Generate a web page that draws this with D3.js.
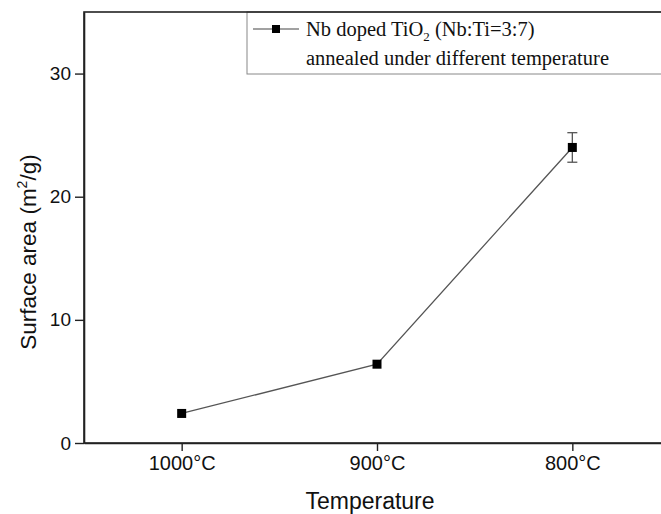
<!DOCTYPE html>
<html><head><meta charset="utf-8">
<script src="https://cdn.jsdelivr.net/npm/d3@7"></script>
<style>body{margin:0;background:#fff}svg{display:block}</style>
</head><body>
<svg id="c" width="661" height="514"></svg>
<script>
const categories = ["1000°C", "900°C", "800°C"];
const values = [2.4, 6.4, 24.0];
const errors = [0, 0, 1.2];
const yTicks = [0, 10, 20, 30];

const svg = d3.select("#c");
const L = 84, T = 12, R = 670, B = 443;
const x = d3.scaleLinear().domain([0.5, 3.5]).range([L, R]);
const y = d3.scaleLinear().domain([0, 35]).range([B, T]);
const xi = i => x(i + 1);

// axes
const xAxis = d3.axisBottom(x).tickValues([1,2,3]).tickFormat(d => categories[d-1]).tickSizeInner(8).tickSizeOuter(0).tickPadding(5);
const gx = svg.append("g").attr("transform", `translate(0,${B})`).call(xAxis);
gx.select(".domain").attr("stroke", "#222").attr("stroke-width", 1.6);
gx.selectAll(".tick line").attr("stroke", "#222").attr("stroke-width", 1.4);
gx.selectAll("text").attr("font-family", "Liberation Sans, Arial").attr("font-size", 20).attr("fill", "#111");

const yAxis = d3.axisLeft(y).tickValues(yTicks).tickSizeInner(9).tickSizeOuter(0).tickPadding(4);
const gy = svg.append("g").attr("transform", `translate(${L},0)`).call(yAxis);
gy.select(".domain").attr("stroke", "#222").attr("stroke-width", 1.6);
gy.selectAll(".tick line").attr("stroke", "#222").attr("stroke-width", 1.4);
gy.selectAll("text").attr("font-family", "Liberation Sans, Arial").attr("font-size", 19).attr("fill", "#111");

// axis titles
svg.append("text").attr("x", 370).attr("y", 509).attr("text-anchor", "middle")
  .attr("font-family", "Liberation Sans, Arial").attr("font-size", 23).attr("fill", "#111").text("Temperature");
const yt = svg.append("text").attr("transform", `translate(36,252) rotate(-90)`)
  .attr("text-anchor", "middle").attr("font-family", "Liberation Sans, Arial").attr("font-size", 22.5).attr("fill", "#111");
yt.append("tspan").text("Surface area (m");
yt.append("tspan").attr("font-size", 14).attr("dy", -9).text("2");
yt.append("tspan").attr("dy", 9).text("/g)");

// line
const line = d3.line().x((d, i) => xi(i)).y(d => y(d));
svg.append("path").datum(values).attr("d", line).attr("fill", "none").attr("stroke", "#555").attr("stroke-width", 1.3);

// error bars
values.forEach((v, i) => {
  const e = errors[i];
  if (!e) return;
  const g = svg.append("g").attr("stroke", "#555").attr("stroke-width", 1.3);
  g.append("line").attr("x1", xi(i)).attr("x2", xi(i)).attr("y1", y(v + e)).attr("y2", y(v - e));
  g.append("line").attr("x1", xi(i) - 5).attr("x2", xi(i) + 5).attr("y1", y(v + e)).attr("y2", y(v + e));
  g.append("line").attr("x1", xi(i) - 5).attr("x2", xi(i) + 5).attr("y1", y(v - e)).attr("y2", y(v - e));
});

// markers
svg.selectAll("rect.m").data(values).enter().append("rect").attr("class", "m")
  .attr("x", (d, i) => xi(i) - 4.5).attr("y", d => y(d) - 4.5).attr("width", 9).attr("height", 9).attr("fill", "#000");

// legend
svg.append("rect").attr("x", 247).attr("y", T).attr("width", 450).attr("height", 62)
  .attr("fill", "#fff").attr("stroke", "#888").attr("stroke-width", 1);
// frame
svg.append("rect").attr("x", L).attr("y", T).attr("width", R - L).attr("height", B - T)
  .attr("fill", "none").attr("stroke", "#222").attr("stroke-width", 1.6);
svg.append("line").attr("x1", 253).attr("x2", 299).attr("y1", 29).attr("y2", 29).attr("stroke", "#444").attr("stroke-width", 1.2);
svg.append("rect").attr("x", 272).attr("y", 25).attr("width", 8).attr("height", 8).attr("fill", "#000");
const lt = svg.append("text").attr("x", 306).attr("y", 36).attr("font-family", "Liberation Serif, Times New Roman").attr("font-size", 20.5).attr("fill", "#111");
lt.append("tspan").text("Nb doped TiO");
lt.append("tspan").attr("font-size", 13).attr("dy", 5).text("2");
lt.append("tspan").attr("dy", -5).text(" (Nb:Ti=3:7)");
svg.append("text").attr("x", 306).attr("y", 65).attr("font-family", "Liberation Serif, Times New Roman").attr("font-size", 20.5).attr("fill", "#111")
  .text("annealed under different temperature");
</script>
</body></html>
